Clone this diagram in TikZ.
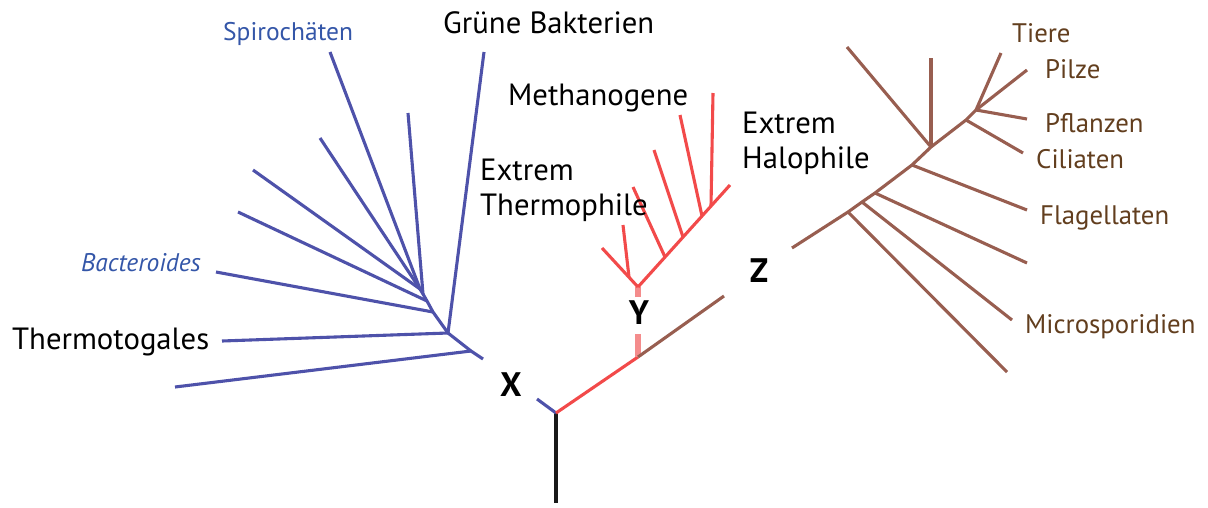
\documentclass[tikz,border=0pt]{standalone}
\usepackage{fontspec}
\setmainfont{PT Sans}
\definecolor{bl}{RGB}{78,82,170}
\definecolor{blt}{RGB}{52,86,168}
\definecolor{rd}{RGB}{242,74,74}
\definecolor{rdl}{RGB}{244,140,140}
\definecolor{br}{RGB}{152,94,80}
\definecolor{brt}{RGB}{98,62,30}
\begin{document}
\begin{tikzpicture}[x=1pt,y=-1pt,
  bline/.style={draw=bl,line width=3.1pt},
  rline/.style={draw=rd,line width=3.1pt},
  rthick/.style={draw=rdl,line width=5.5pt},
  nline/.style={draw=br,line width=3.1pt},
  kline/.style={draw=black!90,line width=3.1pt},
  lbl/.style={inner sep=0pt,anchor=base west,font=\fontsize{30.7}{34}\selectfont},
  bluelbl/.style={inner sep=0pt,anchor=base west,text=blt,font=\fontsize{25.5}{30}\selectfont},
  brlbl/.style={inner sep=0pt,anchor=base west,text=brt,font=\fontsize{26.8}{32}\selectfont},
  letter/.style={inner sep=0pt,font=\bfseries\fontsize{34}{38}\selectfont}]
\useasboundingbox (0,0) rectangle (1208,507);
% ---- root
\coordinate (root) at (556,413);
\coordinate (base) at (556,503);
\draw[kline] (root) -- (base);
% ---- blue (bacteria)
\coordinate (xa) at (537,399);
\coordinate (xb) at (483,359);
\coordinate (bj0) at (471,351);
\coordinate (bt0) at (175,387);
\coordinate (bj1) at (448,333);
\coordinate (btT) at (222,341);
\coordinate (btG) at (484,52);
\coordinate (bj2) at (433,312);
\coordinate (btB) at (216,272);
\coordinate (bj3) at (427,301);
\coordinate (bt4) at (238,212);
\coordinate (bj5) at (423,294);
\coordinate (bj4) at (420,289);
\coordinate (bt5) at (253,170);
\coordinate (bt6) at (320,138);
\coordinate (btS) at (330,52);
\coordinate (bt7) at (408,113);
\draw[bline] (root) -- (xa);
\draw[bline,line join=round] (xb) -- (bj0) -- (bj1) -- (bj2) -- (bj3) -- (bj5) -- (bj4);
\draw[bline] (bj0) -- (bt0);
\draw[bline] (bj1) -- (btT);
\draw[bline] (bj1) -- (btG);
\draw[bline] (bj2) -- (btB);
\draw[bline] (bj3) -- (bt4);
\draw[bline] (bj4) -- (bt5);
\draw[bline] (bj4) -- (bt6);
\draw[bline] (bj4) -- (btS);
\draw[bline] (bj5) -- (bt7);
% ---- red (archaea)
\coordinate (r1) at (638,357);
\coordinate (ry1) at (638,334);
\coordinate (ry2) at (638,297);
\coordinate (rj) at (638,287);
\coordinate (zt) at (724,296);
\coordinate (rl) at (602,248);
\coordinate (rt) at (730,185);
\coordinate (rv) at (623,225);
\coordinate (rvj) at (629,277);
\coordinate (ra1) at (633,187);
\coordinate (raj1) at (665,257);
\coordinate (ra2) at (654,150);
\coordinate (raj2) at (683,237);
\coordinate (ra3) at (680,115);
\coordinate (raj3) at (702,216);
\coordinate (ra4) at (713,93);
\coordinate (raj4) at (711,206);
\draw[rline] (root) -- (r1);
\draw[rthick] (r1) -- (ry1);
\draw[rthick] (ry2) -- (rj);
\draw[nline] (r1) -- (zt);
\draw[rline] (rj) -- (rl);
\draw[rline] (rj) -- (rt);
\draw[rline] (rv) -- (rvj);
\draw[rline] (ra1) -- (raj1);
\draw[rline] (ra2) -- (raj2);
\draw[rline] (ra3) -- (raj3);
\draw[rline] (ra4) -- (raj4);
% ---- brown (eukaryotes)
\coordinate (z0) at (792,248);
\coordinate (zj1) at (848,212);
\coordinate (zj2) at (862,202);
\coordinate (zj3) at (875,193);
\coordinate (zj4) at (912,165);
\coordinate (zj5) at (931,147);
\coordinate (zj6) at (966,120);
\coordinate (zj7) at (976,110);
\coordinate (et1) at (1007,372);
\coordinate (et2) at (1012,320);
\coordinate (et3) at (1027,263);
\coordinate (et4) at (1027,210);
\coordinate (et5) at (847,47);
\coordinate (et6) at (931,58);
\coordinate (et7) at (1023,153);
\coordinate (et8) at (1027,119);
\coordinate (et9) at (1027,70);
\coordinate (et10) at (1001,53);
\draw[nline,line join=round] (z0) -- (zj1) -- (zj2) -- (zj3) -- (zj4) -- (zj5) -- (zj6) -- (zj7);
\draw[nline] (zj1) -- (et1);
\draw[nline] (zj2) -- (et2);
\draw[nline] (zj3) -- (et3);
\draw[nline] (zj4) -- (et4);
\draw[nline] (zj5) -- (et5);
\draw[nline] (zj5) -- (et6);
\draw[nline] (zj6) -- (et7);
\draw[nline] (zj7) -- (et8);
\draw[nline] (zj7) -- (et9);
\draw[nline] (zj7) -- (et10);
% ---- labels
\node[bluelbl] (spiro) at (223,40) {Spirochäten};
\node[bluelbl,font=\itshape\fontsize{25.5}{30}\selectfont] (bacter) at (81,271) {Bacteroides};
\node[lbl] (thermotoga) at (12,349) {Thermotogales};
\node[lbl] (gruene) at (443,33) {Grüne Bakterien};
\node[lbl] (methano) at (508,105) {Methanogene};
\node[lbl] (ethermo1) at (480,180) {Extrem};
\node[lbl] (ethermo2) at (480,215) {Thermophile};
\node[lbl] (ehalo1) at (742,133) {Extrem};
\node[lbl] (ehalo2) at (742,168) {Halophile};
\node[brlbl] (tiere) at (1012,42) {Tiere};
\node[brlbl] (pilze) at (1045,78) {Pilze};
\node[brlbl] (pflanzen) at (1045,132) {Pflanzen};
\node[brlbl] (ciliaten) at (1036,168) {Ciliaten};
\node[brlbl] (flagell) at (1040,224) {Flagellaten};
\node[brlbl] (micro) at (1025,333) {Microsporidien};
\node[letter] (X) at (511,385) {X};
\node[letter] (Y) at (639,313) {Y};
\node[letter] (Z) at (759,271) {Z};
\end{tikzpicture}
\end{document}
